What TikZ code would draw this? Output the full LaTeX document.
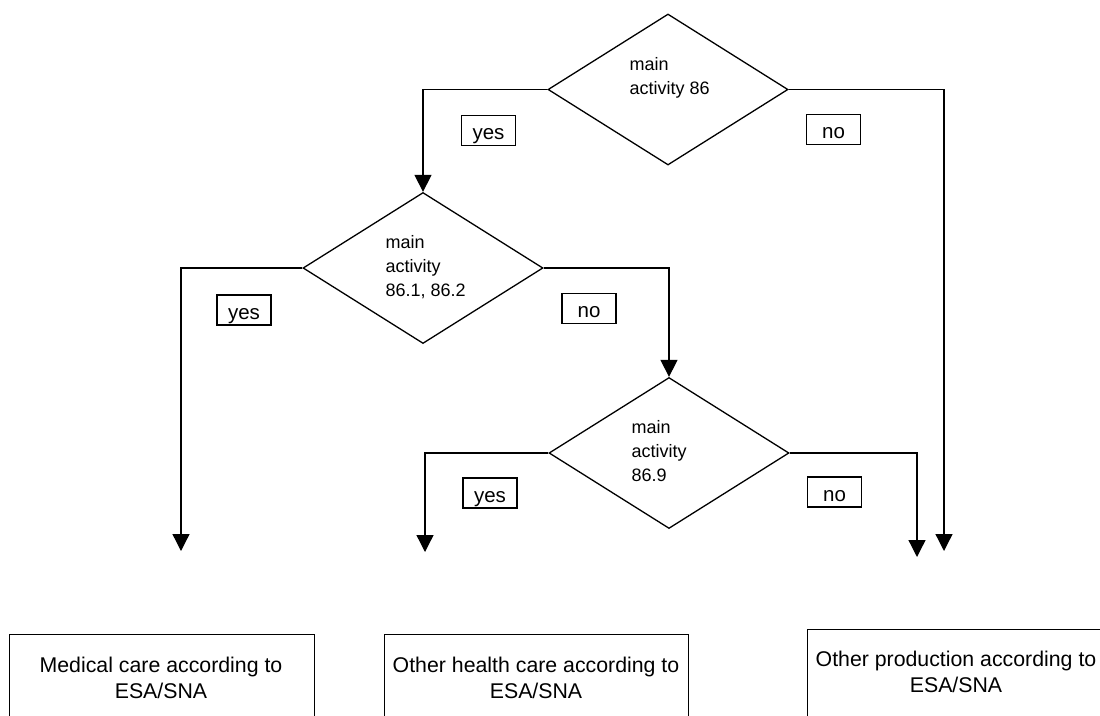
\documentclass[tikz,border=0pt]{standalone}
\usepackage{fontspec}
\setmainfont{Liberation Sans}
\usetikzlibrary{arrows.meta,shapes.geometric}
\begin{document}
\begin{tikzpicture}[x=1pt,y=-1pt,
  line width=1.3pt,
  decision/.style={draw, diamond, minimum width=240pt, minimum height=151pt, inner sep=0pt},
  dtext/.style={anchor=west, align=left, inner sep=0pt, font=\fontsize{18}{24}\selectfont},
  tag/.style={draw, rectangle, minimum width=54pt, minimum height=30pt, inner sep=0pt, line width=1.2pt,
    text height=18pt, text depth=0pt, font=\fontsize{20.5}{24}\selectfont},
  outbox/.style={draw, rectangle, anchor=north west, inner sep=0pt, minimum height=120pt, line width=1.2pt},
  otext/.style={align=center, inner sep=0pt, font=\fontsize{21.3}{26.5}\selectfont},
  flow/.style={-{Triangle[width=17pt,length=17pt]}}
]
\useasboundingbox (0,0) rectangle (1100,715);

% decisions
\node[decision] (d1) at (668,89.5) {};
\node[decision] (d2) at (423,268) {};
\node[decision] (d3) at (669,453) {};

\node[dtext] (d1t) at ([xshift=-39pt]d1.center) {\strut main\\\strut activity 86\\\strut};
\node[dtext] (d2t) at ([xshift=-38pt]d2.center) {\strut main\\\strut activity\\\strut 86.1, 86.2};
\node[dtext] (d3t) at ([xshift=-38pt]d3.center) {\strut main\\\strut activity\\\strut 86.9};

% yes / no tags
\node[tag] (y1) at (488.5,130.5) {yes};
\node[tag] (n1) at (833.5,129.5) {no};
\node[tag] (y2) at (244,310) {yes};
\node[tag] (n2) at (589,308.5) {no};
\node[tag] (y3) at (490,493) {yes};
\node[tag] (n3) at (834.5,492) {no};

% free arrow ends
\coordinate (e1) at (944,551);
\coordinate (e2) at (181,551);
\coordinate (e3) at (425,552);
\coordinate (e4) at (917,557);

% connectors
\draw[flow] (d1.west) -| (d2.north);
\draw[flow] (d1.east) -| (e1);
\draw[flow] (d2.west) -| (e2);
\draw[flow] (d2.east) -| (d3.north);
\draw[flow] (d3.west) -| (e3);
\draw[flow] (d3.east) -| (e4);

% outcome boxes (cut by the page edge)
\begin{scope}
\clip (0,0) rectangle (1100,715);
\node[outbox, minimum width=305.5pt] (b1) at (8.5,634) {};
\node[outbox, minimum width=304pt] (b2) at (384,634) {};
\node[outbox, minimum width=298pt] (b3) at (807,629) {};
\end{scope}

\node[otext] (t1) at (161,680) {\strut Medical care according to\\\strut ESA/SNA};
\node[otext] (t2) at (536,680) {\strut Other health care according to\\\strut ESA/SNA};
\node[otext] (t3) at (956,674) {\strut Other production according to\\\strut ESA/SNA};
\end{tikzpicture}
\end{document}
